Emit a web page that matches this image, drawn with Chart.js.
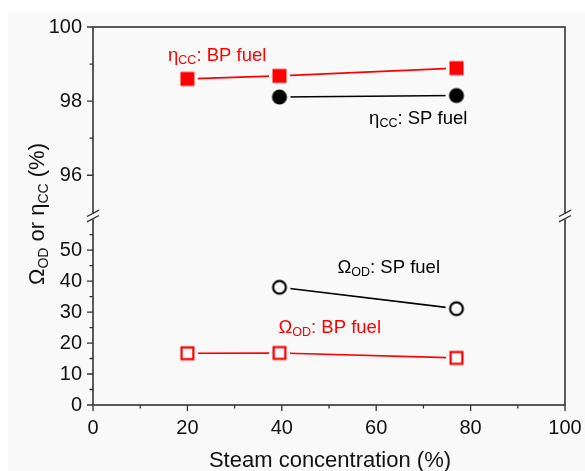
<!DOCTYPE html>
<html><head><meta charset="utf-8">
<script src="https://cdn.jsdelivr.net/npm/chart.js@4.4.1/dist/chart.umd.min.js"></script>
<style>html,body{margin:0;padding:0;background:#fff;}canvas{display:block;}</style>
</head><body>
<canvas id="c" width="585" height="471"></canvas>
<script>
// ---- data ----
const steamBP = [20, 39.5, 77];
const steamSP = [39.5, 77];
const etaCC_BP = [98.60, 98.68, 98.89];
const etaCC_SP = [98.11, 98.15];
const omegaOD_SP = [38.0, 31.1];
const omegaOD_BP = [16.7, 16.8, 15.2];

const xTicks = [0, 20, 40, 60, 80, 100];
const xMinor = [10, 30, 50, 70, 90];
const yTopTicks = [96, 98, 100];
const yTopMinor = [97, 99];
const yBotTicks = [0, 10, 20, 30, 40, 50];
const yBotMinor = [5, 15, 25, 35, 45, 55];

const xTitle = 'Steam concentration (%)';
const yTitle = [{t:'\u03A9'},{t:'OD',sub:true},{t:' or \u03B7'},{t:'CC',sub:true},{t:' (%)'}];

// annotation labels anchored in data units (x, y on given axis)
const labels = [
  {segs:[{t:'\u03B7'},{t:'CC',sub:true},{t:': BP fuel'}], x:15.9, y:99.08, axis:'yTop', color:'#ff0000'},
  {segs:[{t:'\u03B7'},{t:'CC',sub:true},{t:': SP fuel'}], x:58.5, y:97.38, axis:'yTop', color:'#000000'},
  {segs:[{t:'\u03A9'},{t:'OD',sub:true},{t:': SP fuel'}], x:51.8, y:42.5, axis:'yBot', color:'#000000'},
  {segs:[{t:'\u03A9'},{t:'OD',sub:true},{t:': BP fuel'}], x:39.3, y:23.3, axis:'yBot', color:'#ff0000'}
];

const BG = '#f9f9f9';
const AXIS = '#333333';
const FONT = '"Liberation Sans", Arial, sans-serif';

function makeMarker(shape, filled, color, size, lw, halo){
  const dim = Math.ceil(size + 2*halo + 2);
  const cv = document.createElement('canvas');
  cv.width = dim; cv.height = dim;
  const g = cv.getContext('2d');
  const c = dim/2;
  function path(h){
    g.beginPath();
    if (shape === 'square') g.rect(c-h, c-h, 2*h, 2*h);
    else g.arc(c, c, h, 0, Math.PI*2);
  }
  g.fillStyle = BG; path(size/2 + halo); g.fill();
  if (filled){ g.fillStyle = color; path(size/2); g.fill(); }
  else { g.fillStyle = BG; path(size/2 - lw/2); g.fill(); g.lineWidth = lw; g.strokeStyle = color; g.stroke(); }
  return cv;
}

const mkSqFill = makeMarker('square', true, '#ff0000', 14, 0, 3.5);
const mkCirFill = makeMarker('circle', true, '#000000', 15, 0, 3.5);
const mkCirOpen = makeMarker('circle', false, '#000000', 15, 2.2, 3.5);
const mkSqOpen = makeMarker('square', false, '#ff0000', 14, 2.2, 3.5);

function pts(xs, ys){ return xs.map((x,i)=>({x:x, y:ys[i]})); }

function drawRich(ctx, segs, x, y, color, size, subSize, subDy, measureOnly){
  let cx = x;
  ctx.fillStyle = color; ctx.textBaseline = 'alphabetic'; ctx.textAlign = 'left';
  for (const s of segs){
    ctx.font = (s.sub ? subSize : size) + 'px ' + FONT;
    if (!measureOnly) ctx.fillText(s.t, cx, y + (s.sub ? subDy : 0));
    cx += ctx.measureText(s.t).width;
  }
  return cx - x;
}

const deco = {
  id: 'deco',
  beforeDraw(chart){
    const ctx = chart.ctx;
    ctx.save();
    ctx.fillStyle = '#ffffff'; ctx.fillRect(0,0,chart.width,chart.height);
    ctx.fillStyle = BG; ctx.fillRect(8,12,chart.width-8,chart.height-12);
    ctx.restore();
  },
  afterDatasetsDraw(chart){
    const ctx = chart.ctx;
    const a = chart.chartArea;
    const sx = chart.scales.x, st = chart.scales.yTop, sb = chart.scales.yBot;
    ctx.save();
    // frame
    ctx.strokeStyle = AXIS; ctx.lineWidth = 1.6;
    ctx.strokeRect(a.left, a.top, a.right - a.left, a.bottom - a.top);
    // ticks
    ctx.lineWidth = 1.3;
    ctx.beginPath();
    const yt = (s, v, len) => { const p = s.getPixelForValue(v); ctx.moveTo(a.left - len, p); ctx.lineTo(a.left, p); };
    yTopTicks.forEach(v => yt(st, v, 6));
    yTopMinor.forEach(v => yt(st, v, 3.5));
    yBotTicks.forEach(v => yt(sb, v, 6));
    yBotMinor.forEach(v => yt(sb, v, 3.5));
    const xt = (v, len) => { const p = sx.getPixelForValue(v); ctx.moveTo(p, a.bottom); ctx.lineTo(p, a.bottom + len); };
    xTicks.forEach(v => xt(v, 6));
    xMinor.forEach(v => xt(v, 3.5));
    ctx.stroke();
    // axis breaks
    const yb = st.bottom;
    ctx.lineWidth = 1.4;
    [a.left, a.right].forEach(x0 => {
      ctx.fillStyle = BG;
      ctx.beginPath();
      ctx.moveTo(x0-6, yb+5.9); ctx.lineTo(x0+6, yb+0.5); ctx.lineTo(x0+6, yb-4.9); ctx.lineTo(x0-6, yb+0.5); ctx.closePath();
      ctx.fill();
      ctx.beginPath();
      [-2.7, 2.7].forEach(d => { ctx.moveTo(x0-6, yb+d+3.2); ctx.lineTo(x0+6, yb+d-3.2); });
      ctx.stroke();
    });
    // annotations
    labels.forEach(l => {
      const px = sx.getPixelForValue(l.x);
      const py = chart.scales[l.axis].getPixelForValue(l.y);
      drawRich(ctx, l.segs, px, py, l.color, 18.5, 12.5, 3);
    });
    // x title
    ctx.font = '22px ' + FONT; ctx.fillStyle = '#111'; ctx.textAlign = 'center'; ctx.textBaseline = 'alphabetic';
    ctx.fillText(xTitle, (a.left + a.right)/2 + 1, 467);
    // y title
    ctx.save();
    ctx.translate(44, (a.top + a.bottom)/2 - 2);
    ctx.rotate(-Math.PI/2);
    const w = drawRich(ctx, yTitle, 0, 0, '#111', 22, 14, 4, true);
    drawRich(ctx, yTitle, -w/2, 0, '#111', 22, 14, 4);
    ctx.restore();
    ctx.restore();
  }
};

const tickFont = {family: FONT, size: 20};
const cfg = {
  type: 'line',
  data: {
    datasets: [
      {data: pts(steamBP, etaCC_BP), yAxisID: 'yTop', borderColor: '#ff0000', borderWidth: 1.6, pointStyle: mkSqFill, pointRadius: 8},
      {data: pts(steamSP, etaCC_SP), yAxisID: 'yTop', borderColor: '#000000', borderWidth: 1.6, pointStyle: mkCirFill, pointRadius: 8},
      {data: pts(steamSP, omegaOD_SP), yAxisID: 'yBot', borderColor: '#000000', borderWidth: 1.6, pointStyle: mkCirOpen, pointRadius: 8},
      {data: pts(steamBP, omegaOD_BP), yAxisID: 'yBot', borderColor: '#ff0000', borderWidth: 1.6, pointStyle: mkSqOpen, pointRadius: 8}
    ]
  },
  options: {
    responsive: false,
    animation: false,
    devicePixelRatio: 1,
    events: [],
    layout: {padding: {left: 0, right: 20, top: 27, bottom: 0}},
    plugins: {legend: {display: false}, tooltip: {enabled: false}},
    elements: {line: {tension: 0, fill: false}},
    scales: {
      x: {
        type: 'linear', min: 0, max: 100, position: 'bottom',
        grid: {display: false, drawTicks: false},
        border: {display: false},
        afterBuildTicks: s => { s.ticks = xTicks.map(v => ({value: v})); },
        afterFit: s => { s.height = 66; s.paddingRight = 0; s.paddingLeft = 0; },
        ticks: {font: tickFont, color: '#111', padding: 11, maxRotation: 0, autoSkip: false}
      },
      yBot: {
        type: 'linear', min: 0, max: 61, position: 'left', stack: 'y', stackWeight: 1,
        grid: {display: false, drawTicks: false},
        border: {display: false},
        afterBuildTicks: s => { s.ticks = yBotTicks.map(v => ({value: v})); },
        afterFit: s => { s.width = 93; s.paddingTop = 0; s.paddingBottom = 0; },
        ticks: {font: tickFont, color: '#111', padding: 11, autoSkip: false}
      },
      yTop: {
        type: 'linear', min: 94.9, max: 100, position: 'left', stack: 'y', stackWeight: 1,
        grid: {display: false, drawTicks: false},
        border: {display: false},
        afterBuildTicks: s => { s.ticks = yTopTicks.map(v => ({value: v})); },
        afterFit: s => { s.width = 93; s.paddingTop = 0; s.paddingBottom = 0; },
        ticks: {font: tickFont, color: '#111', padding: 11, autoSkip: false}
      }
    }
  },
  plugins: [deco]
};
new Chart(document.getElementById('c'), cfg);
</script>
</body></html>
